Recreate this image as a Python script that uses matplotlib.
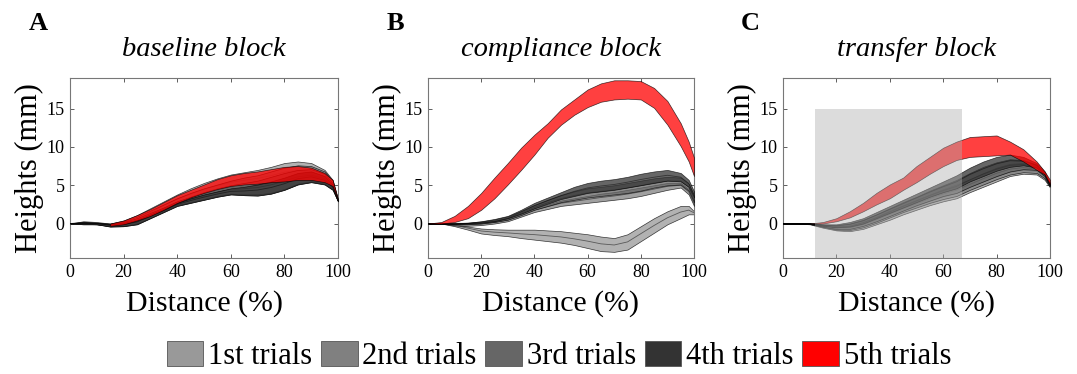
import numpy as np
import matplotlib
matplotlib.use("Agg")
import matplotlib.pyplot as plt
from matplotlib.patches import Patch, Rectangle

plt.rcParams['font.family'] = ['Liberation Serif', 'DejaVu Serif']

# ---------------- data ----------------
distance = [0, 5, 10, 15, 20, 25, 30, 35, 40, 45, 50, 55, 60, 65, 70, 75, 80, 85, 90, 95, 98, 100]

trial_labels = ['1st trials', '2nd trials', '3rd trials', '4th trials', '5th trials']
trial_colors = ['#999999', '#808080', '#666666', '#333333', '#ff0000']
block_titles = ['baseline block', 'compliance block', 'transfer block']
panel_letters = ['A', 'B', 'C']

# Panel A – baseline block (lower / upper edge of each band)
base_t1_lo = [0, 0, -0.1, -0.3, -0.2, 0.1, 0.9, 1.8, 2.6, 3.1, 3.6, 4.0, 4.4, 4.6, 4.8, 5.1, 5.5, 5.8, 5.6, 5.3, 4.6, 3.0]
base_t1_hi = [0, 0.3, 0.2, 0, 0.4, 1.1, 2.0, 2.9, 3.8, 4.6, 5.3, 5.9, 6.4, 6.7, 7.0, 7.4, 7.9, 8.1, 7.9, 7.0, 5.7, 3.1]
base_t2_lo = [0, -0.1, -0.1, -0.4, -0.35, -0.1, 0.7, 1.5, 2.3, 2.7, 3.1, 3.5, 3.8, 3.7, 3.65, 3.9, 4.4, 5.1, 5.4, 5.1, 4.4, 2.9]
base_t2_hi = [0, 0.2, 0.1, 0, 0.3, 0.9, 1.7, 2.5, 3.3, 4.0, 4.6, 5.1, 5.6, 6.0, 6.3, 6.8, 7.3, 7.6, 7.5, 6.8, 5.6, 3.2]
base_t3_lo = [0, -0.05, -0.1, -0.35, -0.3, 0, 0.75, 1.6, 2.4, 2.8, 3.2, 3.6, 3.9, 3.8, 3.8, 4.0, 4.5, 5.2, 5.5, 5.2, 4.5, 2.9]
base_t3_hi = [0, 0.15, 0.1, -0.05, 0.2, 0.7, 1.4, 2.1, 2.9, 3.5, 4.1, 4.6, 5.0, 5.3, 5.6, 6.1, 6.6, 7.0, 7.1, 6.5, 5.3, 3.1]
base_t4_lo = [0, -0.1, -0.1, -0.4, -0.35, -0.1, 0.7, 1.5, 2.3, 2.7, 3.1, 3.5, 3.8, 3.7, 3.65, 3.9, 4.4, 5.1, 5.4, 5.1, 4.4, 2.9]
base_t4_hi = [0, 0.1, 0.05, -0.1, 0.1, 0.5, 1.2, 1.9, 2.7, 3.3, 3.8, 4.2, 4.6, 4.8, 5.1, 5.5, 6.0, 6.6, 6.8, 6.2, 5.1, 3.0]
base_t5_lo = [np.nan, np.nan, np.nan, -0.3, -0.1, 0.4, 1.0, 1.8, 2.7, 3.4, 4.0, 4.5, 4.9, 5.1, 5.2, 5.4, 5.5, 5.7, 5.7, 5.4, 4.9, 3.1]
base_t5_hi = [np.nan, np.nan, np.nan, 0, 0.4, 1.1, 1.9, 2.8, 3.7, 4.4, 5.1, 5.8, 6.3, 6.6, 6.8, 7.1, 7.4, 7.5, 7.3, 6.6, 5.7, 3.1]

# Panel B – compliance block
comp_t1_lo = [0, 0, -0.35, -0.8, -1.3, -1.5, -1.65, -1.9, -2.1, -2.3, -2.5, -2.8, -3.2, -3.6, -3.7, -3.4, -2.3, -1.2, -0.1, 0.7, 1.2, 1.2]
comp_t1_hi = [0, 0, -0.1, -0.4, -0.65, -0.75, -0.8, -0.8, -0.8, -0.9, -1.0, -1.2, -1.4, -1.7, -1.9, -1.4, -0.35, 0.7, 1.6, 2.3, 2.3, 1.6]
comp_t2_lo = [0, 0, -0.25, -0.3, -0.2, 0, 0.3, 0.9, 1.5, 1.9, 2.3, 2.5, 2.7, 2.9, 3.1, 3.3, 3.6, 4.0, 4.4, 4.7, 3.8, 2.3]
comp_t2_hi = [0, 0, 0, 0, 0.1, 0.3, 0.6, 1.3, 2.0, 2.5, 3.0, 3.3, 3.6, 3.9, 4.1, 4.4, 4.7, 5.0, 5.3, 5.3, 4.5, 3.0]
comp_t3_lo = [0, 0, -0.1, -0.1, 0, 0.2, 0.5, 1.1, 1.8, 2.3, 2.8, 3.1, 3.4, 3.6, 3.8, 4.0, 4.3, 4.7, 5.0, 5.1, 4.3, 2.8]
comp_t3_hi = [0, 0, 0.1, 0.1, 0.2, 0.4, 0.8, 1.6, 2.4, 3.1, 3.7, 4.2, 4.6, 4.8, 5.0, 5.3, 5.6, 5.9, 6.1, 6.0, 5.2, 3.6]
comp_t4_lo = [0, 0, -0.1, 0, 0.1, 0.3, 0.7, 1.3, 2.0, 2.6, 3.2, 3.6, 4.0, 4.2, 4.4, 4.7, 5.0, 5.3, 5.6, 5.5, 4.8, 3.4]
comp_t4_hi = [0, 0, 0, 0.1, 0.3, 0.6, 1.0, 1.8, 2.7, 3.4, 4.1, 4.8, 5.3, 5.6, 5.8, 6.1, 6.5, 6.8, 7.0, 6.6, 5.7, 4.2]
comp_t5_lo = [0, 0, 0.2, 0.7, 1.8, 3.3, 5.1, 7.0, 9.0, 11.2, 12.9, 14.2, 15.2, 15.9, 16.2, 16.3, 16.2, 15.1, 12.9, 10.1, 8.1, 6.2]
comp_t5_hi = [0, 0.2, 1.0, 2.3, 4.0, 6.0, 7.9, 9.9, 11.6, 13.1, 14.9, 16.2, 17.5, 18.3, 18.7, 18.7, 18.6, 17.7, 16.0, 13.1, 10.7, 8.6]

# Panel C – transfer block
tran_t1_lo = [0, 0, -0.1, -0.55, -0.9, -1.0, -0.7, -0.1, 0.5, 1.2, 1.8, 2.4, 2.9, 3.3, 4.1, 4.8, 5.5, 6.2, 6.5, 6.4, 5.7, 4.7]
tran_t1_hi = [0, 0, 0, -0.3, -0.5, -0.5, -0.1, 0.6, 1.3, 2.0, 2.7, 3.4, 4.0, 4.5, 5.3, 6.0, 6.7, 7.2, 7.4, 7.2, 6.3, 5.0]
tran_t2_lo = [0, 0, -0.05, -0.45, -0.8, -0.85, -0.5, 0.1, 0.8, 1.5, 2.1, 2.7, 3.2, 3.6, 4.4, 5.1, 5.8, 6.4, 6.7, 6.6, 5.9, 4.8]
tran_t2_hi = [0, 0, 0, -0.2, -0.35, -0.3, 0.2, 0.9, 1.7, 2.4, 3.1, 3.8, 4.5, 5.1, 5.8, 6.6, 7.3, 7.8, 7.9, 7.6, 6.5, 5.1]
tran_t3_lo = [0, 0, -0.05, -0.4, -0.7, -0.7, -0.3, 0.3, 1.0, 1.7, 2.4, 3.0, 3.6, 4.0, 4.8, 5.5, 6.2, 6.8, 7.1, 7.0, 6.2, 4.9]
tran_t3_hi = [0, 0, 0, -0.15, -0.2, 0, 0.5, 1.2, 2.0, 2.8, 3.5, 4.3, 5.0, 5.7, 6.6, 7.4, 8.0, 8.4, 8.3, 7.7, 6.6, 5.2]
tran_t4_lo = [0, 0, 0, -0.3, -0.5, -0.4, 0, 0.7, 1.4, 2.1, 2.8, 3.5, 4.1, 4.6, 5.5, 6.2, 6.9, 7.4, 7.6, 7.3, 6.4, 5.0]
tran_t4_hi = [0, 0, 0, -0.1, -0.1, 0.2, 0.7, 1.5, 2.3, 3.1, 3.9, 4.7, 5.5, 6.3, 7.3, 8.1, 8.7, 9.0, 8.7, 7.9, 6.8, 5.3]
tran_t5_lo = [0, 0, 0, 0, 0.3, 0.8, 1.6, 2.5, 3.3, 4.4, 5.4, 6.5, 7.5, 8.3, 8.7, 8.8, 8.9, 9.0, 8.1, 7.0, 6.4, 5.1]
tran_t5_hi = [0, 0, 0, 0.2, 0.7, 1.6, 2.7, 4.0, 5.1, 6.0, 7.5, 8.7, 9.9, 10.7, 11.3, 11.4, 11.5, 10.7, 9.7, 8.1, 6.8, 5.7]

# shaded region in transfer block (x start, x end, top height)
shade_x = [12, 67]
shade_top = 15

panels = [
    [(base_t1_lo, base_t1_hi), (base_t2_lo, base_t2_hi), (base_t3_lo, base_t3_hi),
     (base_t4_lo, base_t4_hi), (base_t5_lo, base_t5_hi)],
    [(comp_t1_lo, comp_t1_hi), (comp_t2_lo, comp_t2_hi), (comp_t3_lo, comp_t3_hi),
     (comp_t4_lo, comp_t4_hi), (comp_t5_lo, comp_t5_hi)],
    [(tran_t1_lo, tran_t1_hi), (tran_t2_lo, tran_t2_hi), (tran_t3_lo, tran_t3_hi),
     (tran_t4_lo, tran_t4_hi), (tran_t5_lo, tran_t5_hi)],
]

# ---------------- figure ----------------
W, H = 1077, 374
fig = plt.figure(figsize=(W / 100, H / 100), dpi=100)

axes_px = [(70, 338), (428, 694), (783, 1050)]
top_px, bot_px = 78, 258
letter_x = [38, 395, 750]

x = np.array(distance, dtype=float)
for i, ax_bounds in enumerate(axes_px):
    l, r = ax_bounds
    ax = fig.add_axes([l / W, (H - bot_px) / H, (r - l) / W, (bot_px - top_px) / H])
    for j, (lo, hi) in enumerate(panels[i]):
        lo = np.array(lo, dtype=float)
        hi = np.array(hi, dtype=float)
        ax.fill_between(x, lo, hi, facecolor=trial_colors[j], alpha=0.75,
                        edgecolor='k', linewidth=0.5, zorder=2 + j)
        if j < 4:
            ax.plot(x, (lo + hi) / 2, color='k', lw=0.6, alpha=0.5, zorder=2 + j)
    if i == 2:
        ax.add_patch(Rectangle((shade_x[0], -10), shade_x[1] - shade_x[0], shade_top + 10,
                               facecolor='#afafaf', alpha=0.43, edgecolor='none', zorder=10))
    ax.set_xlim(0, 100)
    ax.set_ylim(-4.5, 19)
    ax.set_xticks([0, 20, 40, 60, 80, 100])
    ax.set_yticks([0, 5, 10, 15])
    ax.tick_params(direction='in', top=True, right=True, length=3, width=0.6,
                   labelsize=13, colors='#444444', labelcolor='black', pad=4)
    for s in ax.spines.values():
        s.set_color('#777777')
        s.set_linewidth(0.8)
    ax.set_xlabel('Distance (%)', fontsize=21.5, labelpad=7)
    ax.set_ylabel('Heights (mm)', fontsize=22, labelpad=2)
    ax.set_title(block_titles[i], fontsize=20.5, style='italic', pad=16)
    fig.text(letter_x[i] / W, (H - 23) / H, panel_letters[i], fontsize=19,
             fontweight='bold', ha='center', va='center')

handles = [Patch(facecolor=c, edgecolor='#555555', linewidth=0.6) for c in trial_colors]
fig.legend(handles, trial_labels, loc='center', bbox_to_anchor=(559 / W, (H - 356) / H),
           ncol=5, frameon=False, fontsize=22, handlelength=1.2, handleheight=0.9,
           handletextpad=0.16, columnspacing=0.28, borderpad=0, borderaxespad=0)

fig.savefig('out.png', dpi=100)
